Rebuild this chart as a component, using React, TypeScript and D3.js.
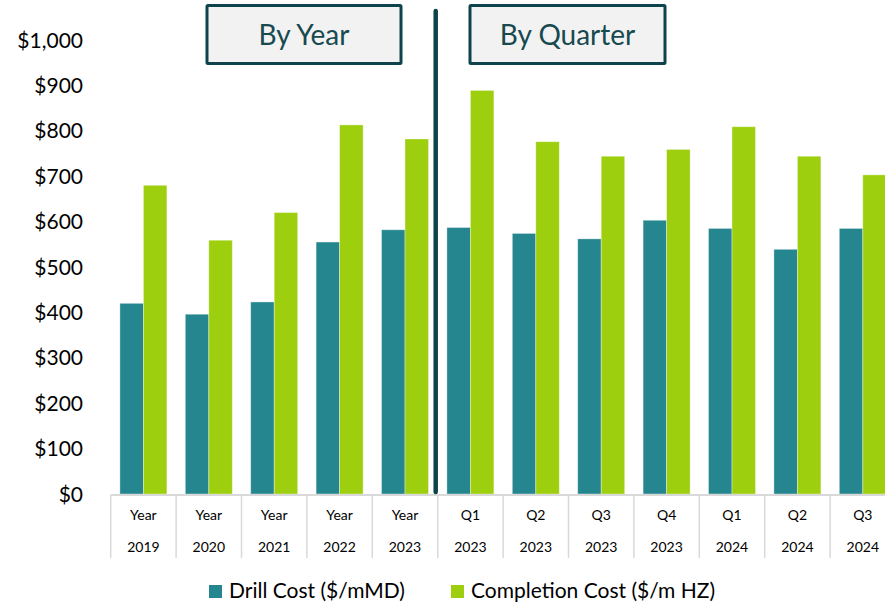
import React from "react";
import * as d3 from "d3";

const categories = ["Year|2019", "Year|2020", "Year|2021", "Year|2022", "Year|2023", "Q1|2023", "Q2|2023", "Q3|2023", "Q4|2023", "Q1|2024", "Q2|2024", "Q3|2024"];
const drillCost = [420, 396, 423, 555, 582, 587, 574, 562, 603, 585, 539, 585];
const completionCost = [680, 559, 620, 813, 782, 889, 776, 744, 759, 809, 744, 703];
const seriesNames = ["Drill Cost ($/mMD)", "Completion Cost ($/m HZ)"];
const yTicks = [0, 100, 200, 300, 400, 500, 600, 700, 800, 900, 1000];
const sectionLabels = ["By Year", "By Quarter"];

const W = 885;
const H = 603;
const TEAL = "#26868f";
const GREEN = "#9dcf0f";
const DARK = "#0f434b";
const FONT = "Lato, 'Open Sans', sans-serif";

export default function App() {
  const x = d3.scaleBand<string>().domain(categories).range([110.7, 895.5]).paddingInner(0).paddingOuter(0);
  const xs = d3.scaleBand<string>().domain(seriesNames).range([9.2, 56.2]);
  const y = d3.scaleLinear().domain([0, 1000]).range([494, 40]);
  const values = [drillCost, completionCost];
  const colors = [TEAL, GREEN];
  const bw = x.bandwidth();
  const dividerX = (x("Q1|2023") as number) - 2;

  return (
    <svg width={W} height={H} style={{ position: "absolute", left: 0, top: 0, background: "#fff" }} fontFamily={FONT}>
      {/* y tick labels */}
      {yTicks.map((t) => (
        <text key={t} x={83} y={y(t)} dy="0.36em" textAnchor="end" fontSize={21} fill="#000">
          {d3.format("$,")(t)}
        </text>
      ))}
      {/* bars */}
      {values.map((vals, si) =>
        vals.map((v, i) => (
          <rect
            key={si + "-" + i}
            x={(x(categories[i]) as number) + (xs(seriesNames[si]) as number)}
            y={y(v)}
            width={xs.bandwidth()}
            height={y(0) - y(v)}
            fill={colors[si]}
            stroke="#ffffff"
            strokeOpacity={0.45}
            strokeWidth={0.8}
          />
        ))
      )}
      {/* x axis line */}
      <line x1={x.range()[0]} x2={W} y1={495} y2={495} stroke="#d9d9d9" strokeWidth={2} />
      {/* category separators */}
      {categories.map((c) => (
        <line key={"sep" + c} x1={x(c) as number} x2={x(c) as number} y1={495} y2={558} stroke="#d9d9d9" strokeWidth={1.5} />
      ))}
      {/* category labels */}
      {categories.map((c) => {
        const [a, b] = c.split("|");
        const cx = (x(c) as number) + bw / 2;
        return (
          <g key={"lab" + c}>
            <text x={cx} y={515} dy="0.36em" textAnchor="middle" fontSize={14} fill="#000">{a}</text>
            <text x={cx} y={547} dy="0.36em" textAnchor="middle" fontSize={14} fill="#000">{b}</text>
          </g>
        );
      })}
      {/* divider */}
      <line x1={dividerX} x2={dividerX} y1={11} y2={492} stroke={DARK} strokeWidth={4.5} strokeLinecap="round" />
      {/* section boxes */}
      {sectionLabels.map((s, i) => {
        const bx = i === 0 ? 207 : 470;
        const bwid = i === 0 ? 194 : 195;
        return (
          <g key={s}>
            <rect x={bx} y={5.5} width={bwid} height={58} fill="#f2f2f2" stroke={DARK} strokeWidth={3} rx={1} />
            <text x={bx + bwid / 2} y={35} dy="0.36em" textAnchor="middle" fontSize={28} fill="#17494f">{s}</text>
          </g>
        );
      })}
      {/* legend */}
      {seriesNames.map((s, i) => {
        const lx = i === 0 ? 209 : 451;
        return (
          <g key={"leg" + s}>
            <rect x={lx} y={585} width={13} height={13} fill={colors[i]} />
            <text x={lx + 20} y={590.5} dy="0.36em" fontSize={21} fill="#000">{s}</text>
          </g>
        );
      })}
    </svg>
  );
}
